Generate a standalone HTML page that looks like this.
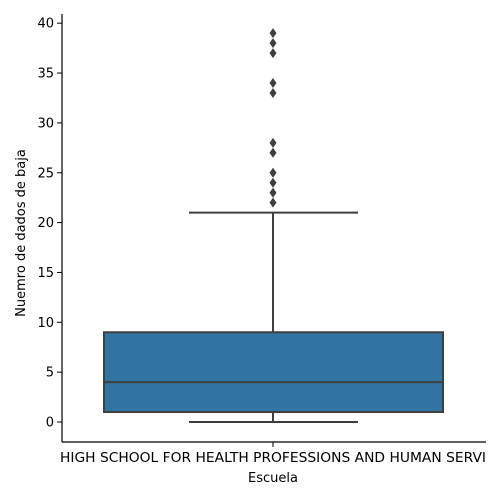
<!DOCTYPE html>
<html><head><meta charset="utf-8"><style>body{margin:0;background:#fff}svg{display:block;font-family:"DejaVu Sans","Liberation Sans",sans-serif}</style></head>
<body>
<svg id="chart" width="500" height="500" xmlns="http://www.w3.org/2000/svg"></svg>
<script>
const category = "HIGH SCHOOL FOR HEALTH PROFESSIONS AND HUMAN SERVI";
const stats = [0, 1, 4, 9, 21]; // whiskerLow, q1, median, q3, whiskerHigh
const outliers = [22, 23, 24, 25, 27, 28, 33, 34, 37, 38, 39];
const yTicks = [0, 5, 10, 15, 20, 25, 30, 35, 40];
const plotTop = 14, plotBottom = 442, plotLeft = 62, plotRight = 486;
const ns = "http://www.w3.org/2000/svg";
const svg = document.getElementById("chart");
function y(v){ return 422 - v * 9.97; }
const cx = (plotLeft + plotRight) / 2 - 1;
function el(tag, attrs, parent){ const e = document.createElementNS(ns, tag); for (const k in attrs) e.setAttribute(k, attrs[k]); (parent||svg).appendChild(e); return e; }
const g = el("g", {});


const c = "#3f3f3f";
const w1 = el("line", {x1:cx, x2:cx, y1:y(stats[3]), y2:y(stats[4]), stroke:c, "stroke-width":2}, g);


const w2 = el("line", {x1:cx, x2:cx, y1:y(stats[0]), y2:y(stats[1]), stroke:c, "stroke-width":2}, g);


const cap1 = el("line", {x1:189, x2:358, y1:y(stats[4]), y2:y(stats[4]), stroke:c, "stroke-width":2}, g);


const cap2 = el("line", {x1:189, x2:358, y1:y(stats[0]), y2:y(stats[0]), stroke:c, "stroke-width":2}, g);


const rect = el("rect", {x:104, width:339, y:y(stats[3]), height:y(stats[1]) - y(stats[3]), fill:"#3274a1", stroke:c, "stroke-width":2}, g);


const med = el("line", {x1:104, x2:443, y1:y(stats[2]), y2:y(stats[2]), stroke:c, "stroke-width":2}, g);


outliers.forEach(v => {
  const yy = y(v);
  const p = el("polygon", {points:`${cx},${yy-5} ${cx+3.5},${yy} ${cx},${yy+5} ${cx-3.5},${yy}`, fill:c}, g);
  
  
});
const ya = el("line", {x1:plotLeft, x2:plotLeft, y1:plotTop, y2:plotBottom, stroke:"#000", "stroke-width":1.2});


const xa = el("line", {x1:plotLeft, x2:plotRight, y1:plotBottom, y2:plotBottom, stroke:"#000", "stroke-width":1.2});


yTicks.forEach(t => {
  const tk = el("line", {x1:plotLeft-5, x2:plotLeft, y1:y(t), y2:y(t), stroke:"#000", "stroke-width":1});
  
  
  const tx = el("text", {x:plotLeft-8, y:y(t)+4.5, "text-anchor":"end", "font-size":13});
  tx.textContent = t;
  
  
});
const xt = el("line", {x1:cx, x2:cx, y1:plotBottom, y2:plotBottom+5, stroke:"#000", "stroke-width":1});


const xl = el("text", {x:60, y:462, "font-size":13, textLength:426, lengthAdjust:"spacingAndGlyphs"});
xl.textContent = category;


const xtitle = el("text", {x:cx, y:482, "text-anchor":"middle", "font-size":13});
xtitle.textContent = "Escuela";


const ytitle = el("text", {x:0, y:0, "text-anchor":"middle", "font-size":13, transform:`translate(25,${(plotTop+plotBottom)/2+5}) rotate(-90)`});
ytitle.textContent = "Nuemro de dados de baja";


</script>
</body></html>
